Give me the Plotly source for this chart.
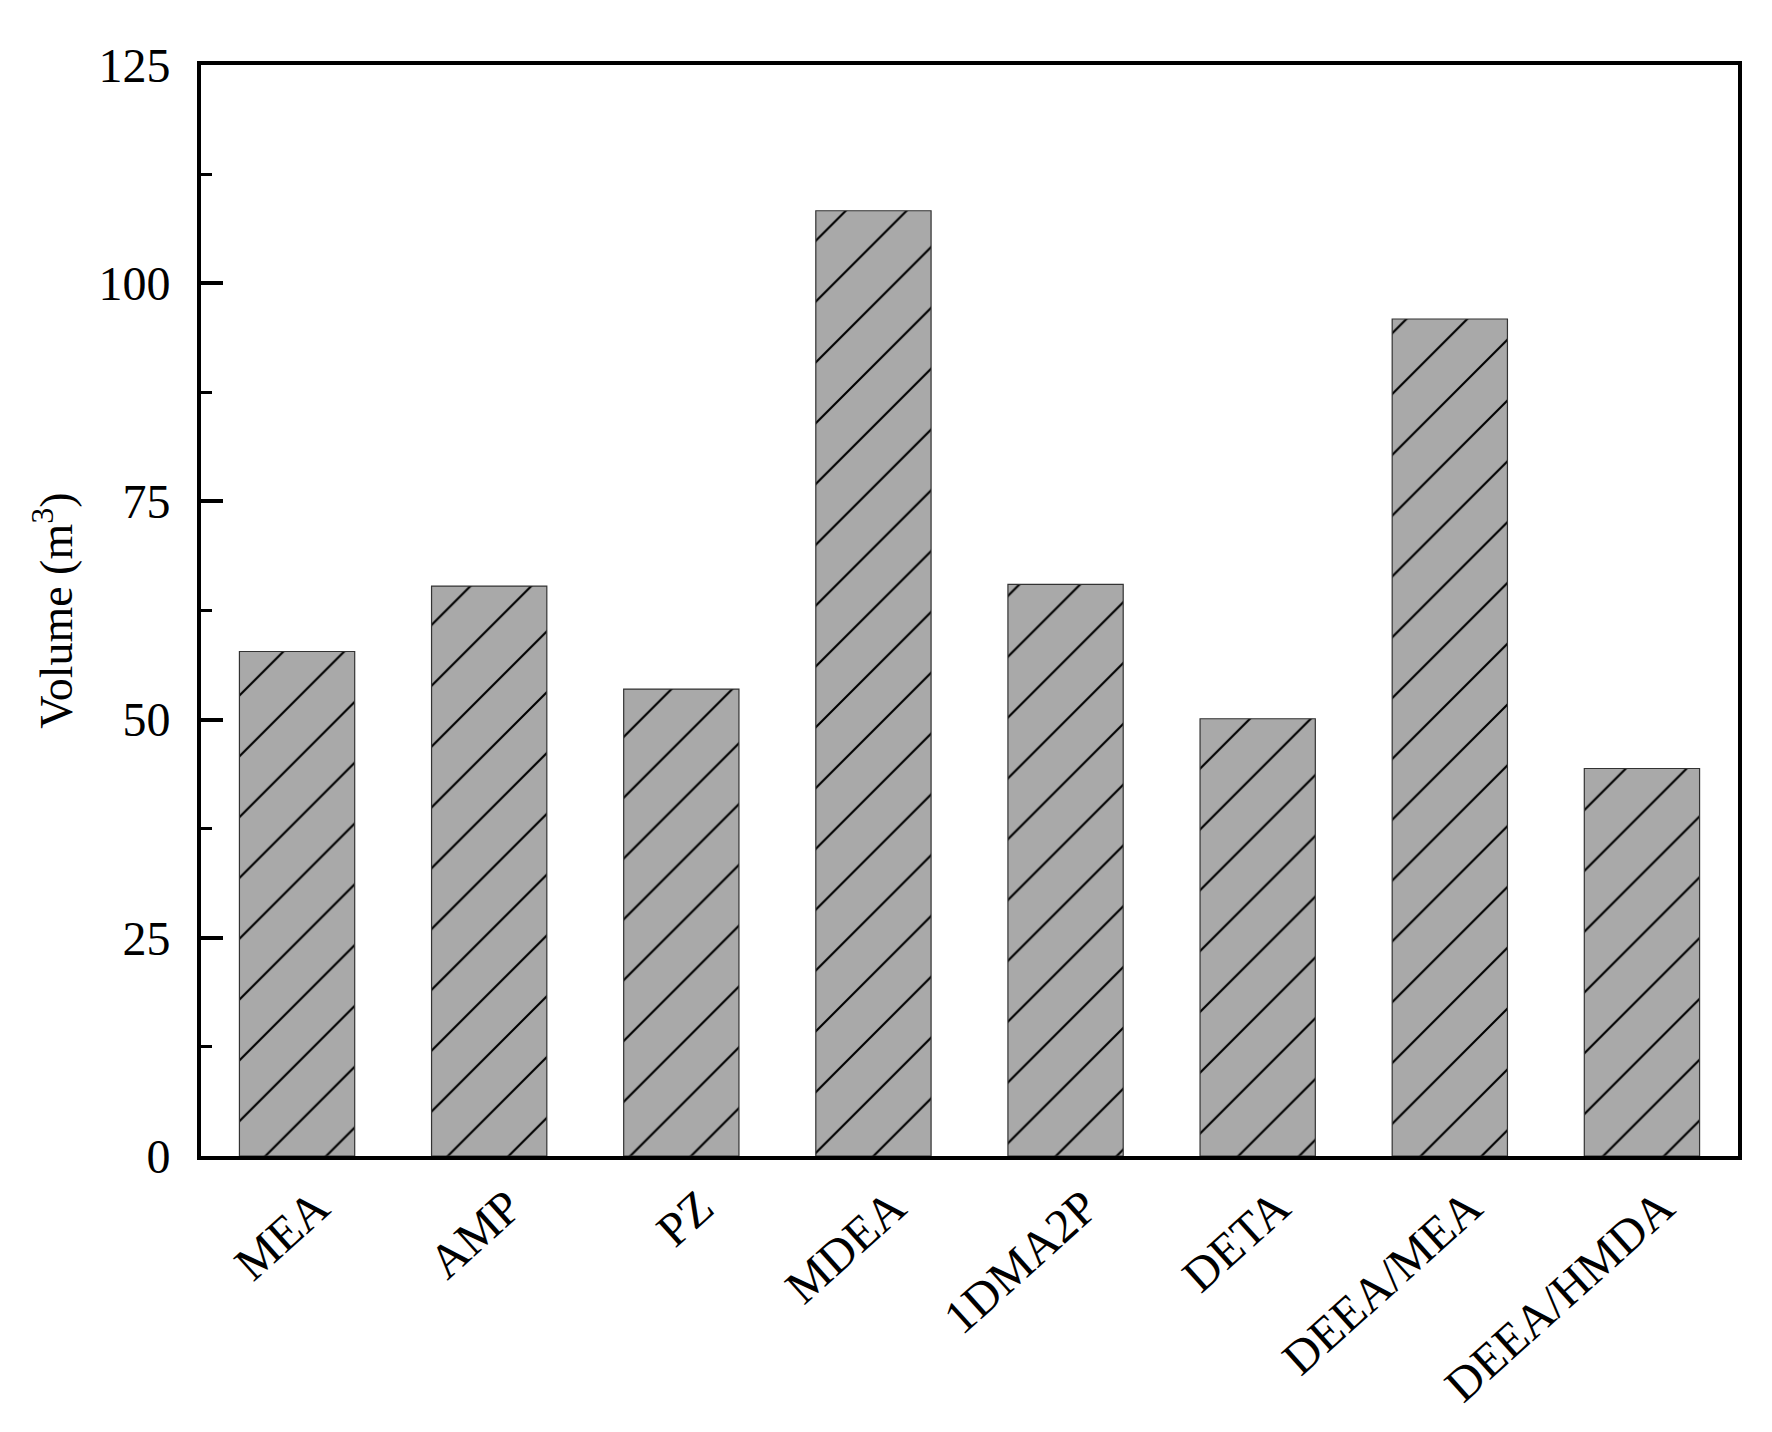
import plotly.graph_objects as go

# Données
amines = ["MEA", "AMP", "PZ", "MDEA", "1DMA2P", "DETA", "DEEA/MEA", "DEEA/HMDA"]
volumes = [57.8, 65.3, 53.5, 108.3, 65.5, 50.1, 95.9, 44.4]

y_ticks = [0, 25, 50, 75, 100, 125]

FONT = "Liberation Serif, Times New Roman, serif"

positions = list(range(len(amines)))
# léger décalage des étiquettes inclinées vers la droite
label_pos = [p + 0.1 for p in positions]

fig = go.Figure()

# Barres hachurées
fig.add_trace(
    go.Bar(
        x=positions,
        y=volumes,
        width=0.6,
        marker=dict(
            color="#a9a9a9",
            line=dict(color="#333333", width=1.2),
            pattern=dict(
                shape="/",
                fgcolor="black",
                bgcolor="#a9a9a9",
                size=43,
                solidity=0.05,
                fillmode="replace",
            ),
        ),
        showlegend=False,
    )
)

# Mise en forme
fig.update_layout(
    width=1772,
    height=1432,
    paper_bgcolor="white",
    plot_bgcolor="white",
    margin=dict(l=193, r=42, t=57, b=284),
    font=dict(family=FONT, size=48, color="black"),
)

fig.update_xaxes(
    range=[-0.5, 7.5],
    tickvals=label_pos,
    ticktext=amines,
    showline=True,
    linecolor="black",
    linewidth=4,
    mirror=True,
    ticks="",
    tickangle=-42,
    tickfont=dict(family=FONT, size=48),
    showgrid=False,
    zeroline=False,
)

fig.update_yaxes(
    range=[0, 125],
    tickvals=y_ticks,
    showline=True,
    linecolor="black",
    linewidth=4,
    mirror=True,
    ticks="inside",
    ticklen=22,
    tickwidth=4,
    tickcolor="black",
    minor=dict(ticks="inside", dtick=12.5, ticklen=11, tickwidth=3, tickcolor="black"),
    tickfont=dict(family=FONT, size=48),
    ticklabelstandoff=17,
    title=dict(text="Volume (m<sup>3</sup>)", font=dict(family=FONT, size=46), standoff=12),
    showgrid=False,
    zeroline=False,
)

fig.write_html("out.html")
